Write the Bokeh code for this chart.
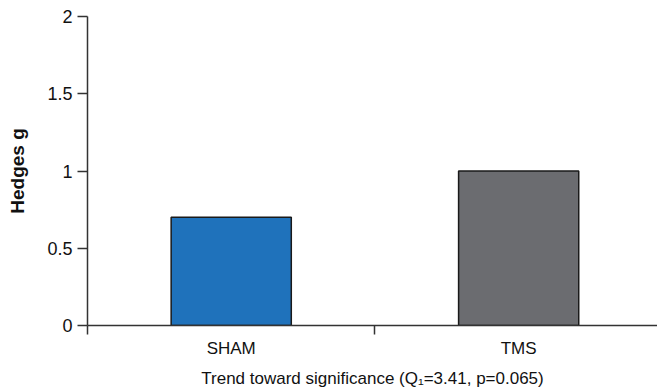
from bokeh.plotting import figure
from bokeh.models import Range1d, FixedTicker, ColumnDataSource
from bokeh.embed import file_html
from bokeh.resources import INLINE

# Data
categories = ["SHAM", "TMS"]
positions = [0.5, 1.5]
hedges_g = [0.70, 1.00]
bar_colors = ["#1F72BB", "#6B6C70"]
y_ticks = [0, 0.5, 1, 1.5, 2]
y_tick_labels = ["0", "0.5", "1", "1.5", "2"]
x_title = "Trend toward significance (Q\u2081=3.41, p=0.065)"
y_title = "Hedges g"

FONT = "Liberation Sans"
AXIS_COLOR = "#333333"
TEXT_COLOR = "#111111"

p = figure(width=657, height=391, output_backend="svg", toolbar_location=None,
           x_range=Range1d(0, 1.983), y_range=Range1d(0, 2),
           min_border_left=87, min_border_right=0, min_border_top=16, min_border_bottom=66)
p.outline_line_color = None
p.background_fill_color = "white"
p.border_fill_color = "white"
p.xgrid.grid_line_color = None
p.ygrid.grid_line_color = None

src = ColumnDataSource(dict(x=positions, top=hedges_g, color=bar_colors, cat=categories))
p.vbar(x="x", top="top", bottom=0, width=0.418, fill_color="color",
       line_color="#1a1a1a", line_width=1.5, source=src)

# X axis
xa = p.xaxis[0]
xa.ticker = FixedTicker(ticks=positions, minor_ticks=[0, 1])
xa.major_label_overrides = {pos: c for pos, c in zip(positions, categories)}
xa.major_tick_line_color = None
xa.major_tick_out = 0
xa.major_tick_in = 0
xa.minor_tick_out = 9
xa.minor_tick_in = 0
xa.minor_tick_line_color = AXIS_COLOR
xa.minor_tick_line_width = 1.5
xa.axis_line_color = AXIS_COLOR
xa.axis_line_width = 1.5
xa.major_label_standoff = 4
xa.major_label_text_font = FONT
xa.major_label_text_font_size = "17px"
xa.major_label_text_color = TEXT_COLOR
xa.axis_label = x_title
xa.axis_label_standoff = 8
xa.axis_label_text_font = FONT
xa.axis_label_text_font_style = "normal"
xa.axis_label_text_font_size = "17px"
xa.axis_label_text_color = TEXT_COLOR

# Y axis
ya = p.yaxis[0]
ya.ticker = FixedTicker(ticks=y_ticks)
ya.major_label_overrides = {t: l for t, l in zip(y_ticks, y_tick_labels)}
ya.minor_tick_line_color = None
ya.major_tick_out = 10
ya.major_tick_in = 0
ya.major_tick_line_color = AXIS_COLOR
ya.major_tick_line_width = 1.5
ya.axis_line_color = AXIS_COLOR
ya.axis_line_width = 1.5
ya.major_label_standoff = 5
ya.major_label_text_font = FONT
ya.major_label_text_font_size = "18px"
ya.major_label_text_color = TEXT_COLOR
ya.axis_label = y_title
ya.axis_label_text_font = FONT
ya.axis_label_text_font_style = "bold"
ya.axis_label_text_font_size = "19px"
ya.axis_label_text_color = TEXT_COLOR
ya.axis_label_standoff = 16

open("out.html", "w").write(file_html(p, INLINE))
